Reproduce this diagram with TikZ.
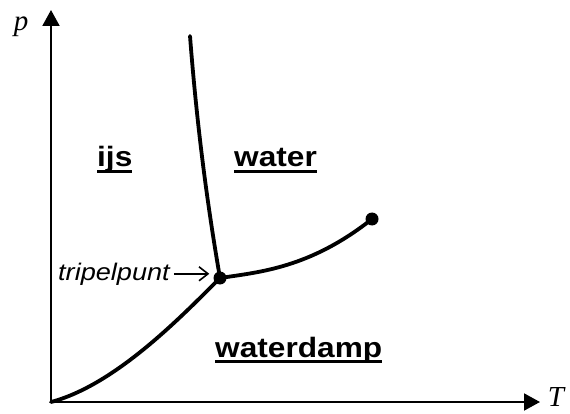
\documentclass[tikz,border=0pt]{standalone}
\usepackage{fontspec}
\setmainfont{Liberation Serif}
\newfontfamily\lblfont[FakeStretch=1.13]{Liberation Sans}
\usepackage{tikz}
\usetikzlibrary{arrows.meta}
\newcommand{\onder}[1]{\setbox0\hbox{#1}\rlap{\vrule width\wd0 height -3pt depth 6pt}\box0}
\tikzset{
  fase/.style={anchor=base west, inner sep=0pt, font=\lblfont\bfseries\fontsize{28}{30}\selectfont},
  as/.style={line width=2pt, -{Triangle[length=16pt, width=17pt]}},
  aslabel/.style={anchor=base, inner sep=0pt, font=\itshape\fontsize{29}{31}\selectfont},
  lijn/.style={line width=3.8pt, line cap=round},
  punt/.style={circle, fill=black, inner sep=0pt, minimum size=13pt}
}
\begin{document}
\begin{tikzpicture}[x=1pt, y=-1pt]
\useasboundingbox (0,0) rectangle (570,414);
\coordinate (O) at (51,402);
\coordinate (Ytop) at (51,10);
\coordinate (Xend) at (540,402);
\coordinate (Stop) at (190,36);
\node[punt] (Tp) at (220,278) {};
\node[punt] (Kp) at (372,219) {};
% assen
\draw[as] (O) -- (Ytop);
\draw[as] (O) -- (Xend);
\node[aslabel] (p) at (21,31) {p};
\node[aslabel] (T) at (556,406) {T};
% fasegrenzen
\draw[lijn] (Stop) .. controls (198,140) and (210,220) .. (Tp.center);
\draw[lijn] (O) .. controls (115,385) and (180,318) .. (Tp.center);
\draw[lijn] (Tp.center) .. controls (260,272) and (310,268) .. (Kp.center);
% labels
\node[fase] (ijs) at (97,167) {\onder{ijs}};
\node[fase] (water) at (234,167) {\onder{water}};
\node[fase] (damp) at (215,357) {\onder{waterdamp}};
\node[anchor=base west, inner sep=0pt, font=\lblfont\itshape\fontsize{24}{26}\selectfont] (tp) at (58,280) {tripelpunt};
\draw[line width=1.6pt, -{Straight Barb[length=9pt, width=14pt]}] (tp.east) ++(4,0) coordinate (tpA) -- ([xshift=-4pt]Tp.west |- tpA);
\end{tikzpicture}
\end{document}
